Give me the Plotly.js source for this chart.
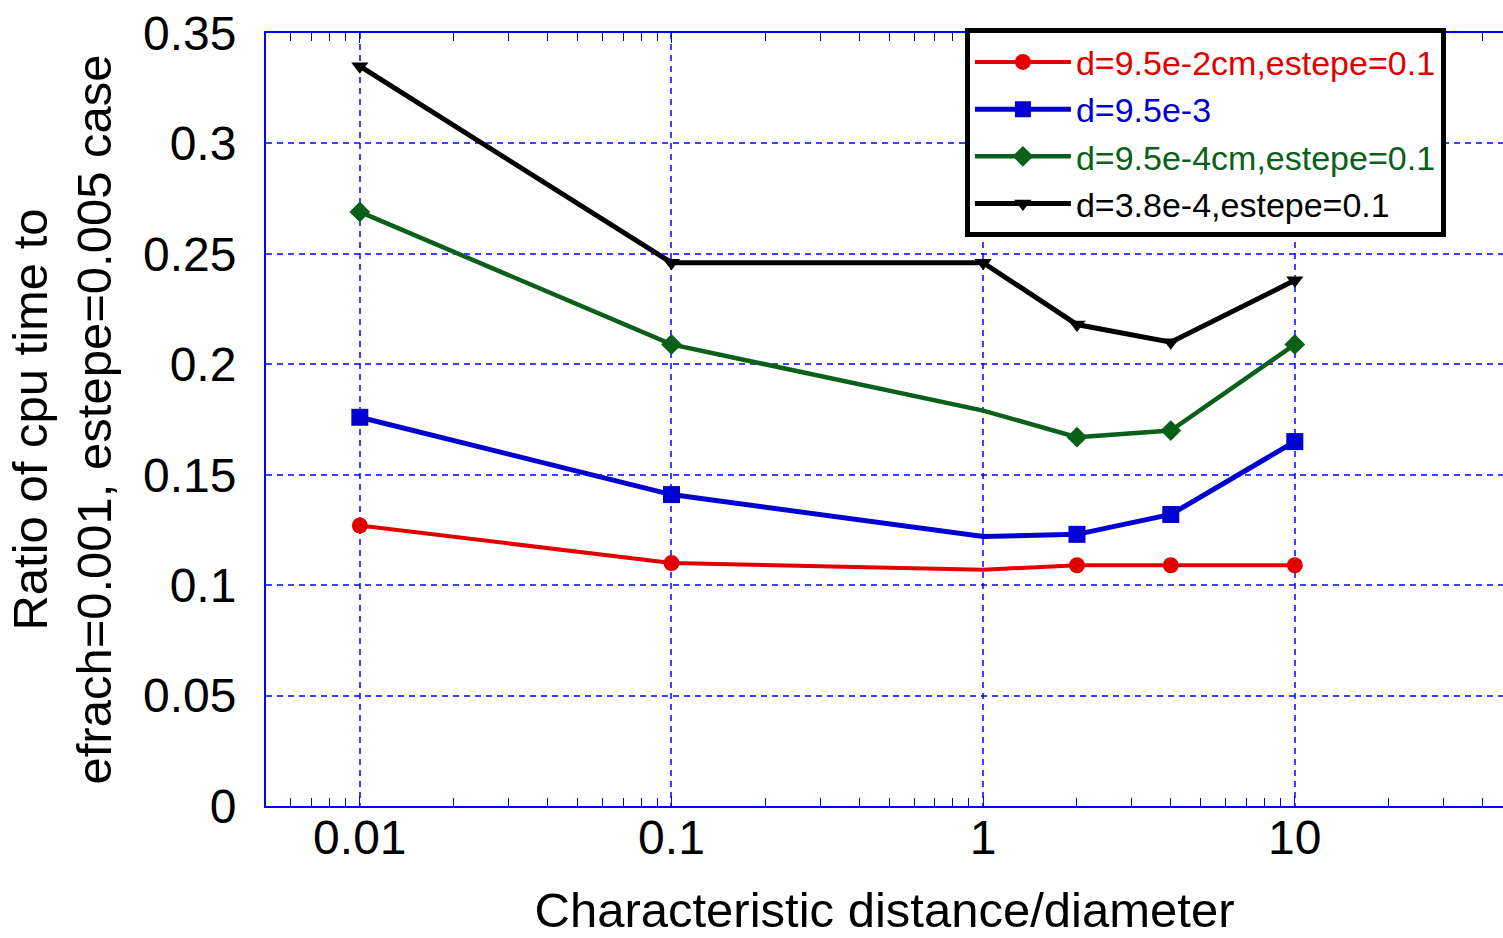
<!DOCTYPE html>
<html>
<head>
<meta charset="utf-8">
<script src="https://cdn.plot.ly/plotly-3.0.1.min.js"></script>
<style>html,body{margin:0;padding:0;background:#fff;}#chart{width:1503px;height:938px;}</style>
</head>
<body>
<div id="chart"></div>
<script>
const xValues = [0.01, 0.1, 1, 2, 4, 10];
const seriesNames = ["d=9.5e-2cm,estepe=0.1", "d=9.5e-3", "d=9.5e-4cm,estepe=0.1", "d=3.8e-4,estepe=0.1"];
const red = [0.127, 0.110, 0.107, 0.109, 0.109, 0.109];
const blue = [0.176, 0.141, 0.122, 0.123, 0.132, 0.165];
const green = [0.269, 0.209, 0.179, 0.167, 0.170, 0.209];
const black = [0.335, 0.246, 0.246, 0.218, 0.210, 0.238];
const yTicks = [0, 0.05, 0.1, 0.15, 0.2, 0.25, 0.3, 0.35];
const xTicks = [0.01, 0.1, 1, 10];
const xTickText = ["0.01", "0.1", "1", "10"];

const styles = [
  {color: "#e00000", symbol: "circle", size: 16, width: 4, hideAt1: true},
  {color: "#0000d0", symbol: "square", size: 17, width: 5, hideAt1: true},
  {color: "#0a6018", symbol: "diamond", size: 16, width: 4.5, hideAt1: true},
  {color: "#000000", symbol: "triangle-down", size: 15, width: 5, hideAt1: false}
];
const allY = [red, blue, green, black];

const traces = allY.map((ys, i) => {
  const st = styles[i];
  return {
    x: xValues, y: ys, type: "scatter", mode: "lines+markers",
    name: '<span style="color:' + st.color + '">' + seriesNames[i] + '</span>',
    line: {color: st.color, width: st.width},
    marker: {size: st.size, symbol: st.symbol, opacity: 1, line: {width: 0},
      color: xValues.map(x => (st.hideAt1 && x === 1) ? "rgba(0,0,0,0)" : st.color)}
  };
});

const gridStyle = {showgrid: true, gridcolor: "rgba(0,0,255,0.75)", griddash: "6px,5px", gridwidth: 2};

const layout = {
  width: 1503, height: 938,
  margin: {l: 266, r: 0, t: 33, b: 132},
  paper_bgcolor: "#fff", plot_bgcolor: "#fff",
  font: {family: "Liberation Sans, Arial, sans-serif", color: "#000"},
  showlegend: true,
  legend: {
    x: 0.565, y: 1.006, xanchor: "left", yanchor: "top",
    bgcolor: "#fff", bordercolor: "#000", borderwidth: 5,
    font: {size: 34}, itemwidth: 96, tracegroupgap: 0
  },
  xaxis: Object.assign({
    type: "log", range: [Math.log10(0.005), 1.668],
    tickvals: xTicks, ticktext: xTickText,
    tickfont: {size: 48}, ticks: "inside", ticklen: 10, tickcolor: "#0000ff",
    ticklabelstandoff: -12,
    showline: true, linecolor: "#0000ff", linewidth: 2, mirror: "allticks",
    zeroline: false,
    minor: {ticks: "inside", ticklen: 8, tickcolor: "#0000ff", showgrid: false,
      tickvals: [0.006,0.007,0.008,0.009,0.02,0.03,0.04,0.05,0.06,0.07,0.08,0.09,0.2,0.3,0.4,0.5,0.6,0.7,0.8,0.9,2,3,4,5,6,7,8,9,20,30,40]},
    title: {text: "Characteristic distance/diameter", font: {size: 49}, standoff: 30}
  }, gridStyle),
  yaxis: Object.assign({
    range: [0, 0.35], tickvals: yTicks,
    tickfont: {size: 48}, ticks: "", ticklabelstandoff: 18,
    showline: true, linecolor: "#0000ff", linewidth: 2, mirror: false,
    zeroline: false,
    title: {text: "Ratio of cpu time to<br>efrach=0.001, estepe=0.005 case", font: {size: 49}, standoff: 16}
  }, gridStyle)
};

Plotly.newPlot("chart", traces, layout, {displayModeBar: false, responsive: false});
</script>
</body>
</html>
